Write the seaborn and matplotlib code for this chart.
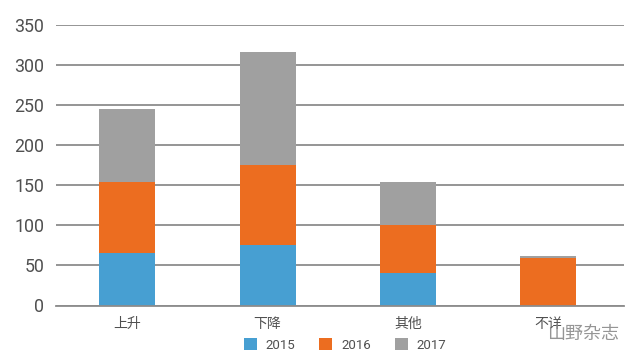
import numpy as np
import pandas as pd
import matplotlib
matplotlib.use("Agg")
import matplotlib.pyplot as plt
import seaborn as sns

categories = ["上升", "下降", "其他", "不详"]
v2015 = [66, 75, 40, 0]
v2016 = [88, 100, 60, 59]
v2017 = [91, 141, 54, 3]
yticks = [0, 50, 100, 150, 200, 250, 300, 350]
colors = {"2015": "#479fd2", "2016": "#ec6d20", "2017": "#a0a0a0"}

sns.set_theme(style="white")
plt.rcParams['font.family'] = ['Roboto', 'Noto Sans CJK SC', 'DejaVu Sans']

W, H = 640, 361
fig = plt.figure(figsize=(W/100, H/100), dpi=100)
y0, y350 = 305.5, 24.7
ax = fig.add_axes([56/W, 1 - y0/H, (624-56)/W, (y0-y350)/H])

df = pd.DataFrame({"cat": categories, "2015": v2015, "2016": v2016, "2017": v2017})
bottom = np.zeros(len(categories))
for s in ["2015", "2016", "2017"]:
    sns.barplot(data=df, x="cat", y=s, color=colors[s], saturation=1, width=0.4,
                bottom=bottom, ax=ax, label=s, zorder=3, legend=False, linewidth=0)
    bottom = bottom + df[s].to_numpy()

ax.set_xlim(-0.508, 3.54)
ax.set_ylim(0, 350)
ax.set_yticks(yticks)
ax.set_xlabel("")
ax.set_ylabel("")
ax.grid(axis="y", color="#8c8c8c", lw=1.3, zorder=1)
ax.set_axisbelow(True)
for sp in ["top", "right", "left"]:
    ax.spines[sp].set_visible(False)
ax.spines["bottom"].set_color("#8c8c8c")
ax.spines["bottom"].set_linewidth(1.3)
ax.spines["bottom"].set_zorder(4)
ax.tick_params(axis="y", length=0, pad=8.5, labelsize=12.8, labelcolor="#505050")
ax.tick_params(axis="x", length=0, pad=8, labelsize=10, labelcolor="#505050")

handles, labels = ax.get_legend_handles_labels()
fig.legend(handles[:3], labels[:3], loc="center", bbox_to_anchor=(345/W, 1 - 345/H),
           ncol=3, frameon=False, fontsize=9.5, labelcolor="#505050",
           handlelength=1.0, handleheight=1.05, handletextpad=0.65, columnspacing=1.8,
           borderpad=0, borderaxespad=0)

fig.text(619/W, 1 - 334/H, "山野杂志", ha="right", va="center", fontsize=13,
         color="#8a8a8a", alpha=0.9)
fig.savefig("out.png", dpi=100, facecolor="white")
